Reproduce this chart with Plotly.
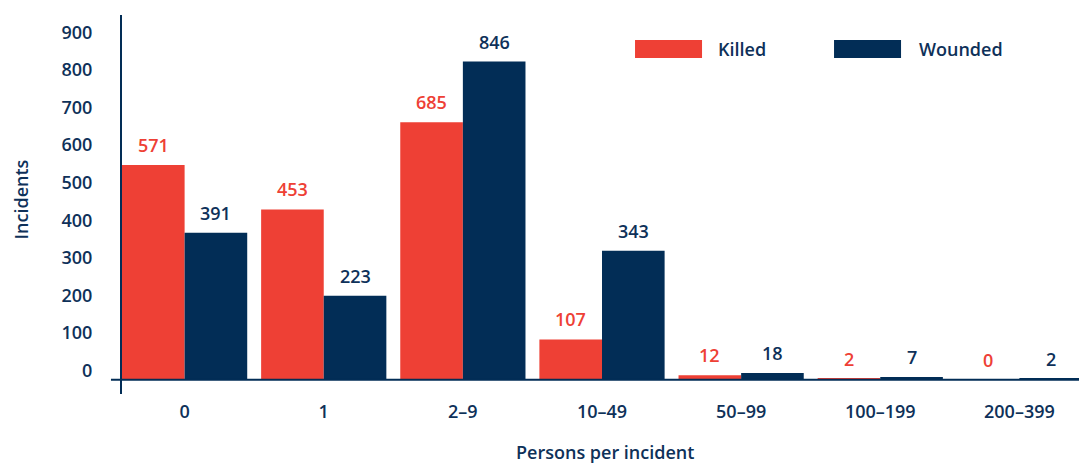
import plotly.graph_objects as go

categories = ["0", "1", "2–9", "10–49", "50–99", "100–199", "200–399"]
killed = [571, 453, 685, 107, 12, 2, 0]
wounded = [391, 223, 846, 343, 18, 7, 2]
y_ticks = [0, 100, 200, 300, 400, 500, 600, 700, 800, 900]

RED = "#EE4035"
NAVY = "#022D56"
TXT = "#0E3159"
FONT = "Open Sans"
W = 600


def f(color=TXT, size=18):
    return dict(family=FONT, size=size, color=color, weight=W)


fig = go.Figure()
fig.add_trace(go.Bar(x=categories, y=killed, name="Killed", marker_color=RED,
                     marker_line_width=0, showlegend=False))
fig.add_trace(go.Bar(x=categories, y=wounded, name="Wounded", marker_color=NAVY,
                     marker_line_width=0, showlegend=False))

annotations = []
half = 0.225
for i, (k, w) in enumerate(zip(killed, wounded)):
    annotations.append(dict(x=i - half, y=k, xref="x", yref="y", text=str(k),
                            showarrow=False, yanchor="bottom", yshift=6,
                            font=f(RED)))
    annotations.append(dict(x=i + half, y=w, xref="x", yref="y", text=str(w),
                            showarrow=False, yanchor="bottom", yshift=6,
                            font=f(TXT)))

# axis titles
annotations.append(dict(x=0.503, y=-0.153, xref="paper", yref="paper",
                        text="Persons per incident", showarrow=False,
                        xanchor="center", yanchor="middle", font=f()))
annotations.append(dict(x=-0.105, y=0.514, xref="paper", yref="paper",
                        text="Incidents", showarrow=False, textangle=-90,
                        xanchor="center", yanchor="middle", font=f()))

# custom legend text
annotations.append(dict(x=0.6188, y=0.9103, xref="paper", yref="paper",
                        text="Killed", showarrow=False, xanchor="left",
                        yanchor="middle", font=f()))
annotations.append(dict(x=0.8281, y=0.9103, xref="paper", yref="paper",
                        text="Wounded", showarrow=False, xanchor="left",
                        yanchor="middle", font=f()))

shapes = [
    # baseline
    dict(type="line", xref="paper", yref="y", x0=-0.0115, x1=1.006, y0=0, y1=0,
         line=dict(color=NAVY, width=2)),
    # right vertical line
    dict(type="line", xref="paper", yref="paper", x0=1, x1=1, y0=-0.0106, y1=0.939,
         line=dict(color=NAVY, width=2)),
    # legend swatches
    dict(type="rect", xref="paper", yref="paper", x0=0.5344, x1=0.6042,
         y0=0.8865, y1=0.934, fillcolor=RED, line_width=0),
    dict(type="rect", xref="paper", yref="paper", x0=0.7417, x1=0.8115,
         y0=0.8865, y1=0.934, fillcolor=NAVY, line_width=0),
]

fig.update_layout(
    width=1087, height=463,
    margin=dict(l=114, r=13, t=7, b=77),
    paper_bgcolor="white", plot_bgcolor="white",
    barmode="group", bargap=0.1, bargroupgap=0,
    font=f(),
    annotations=annotations, shapes=shapes,
    xaxis=dict(type="category", range=[-0.45, 6.45], showgrid=False,
               zeroline=False, showline=False, ticks="", ticklabelstandoff=5,
               tickfont=f()),
    yaxis=dict(range=[-38, 970], tickvals=y_ticks, showgrid=False,
               zeroline=False, showline=True, linecolor=NAVY, linewidth=2,
               ticks="", ticklabelposition="outside", ticklabelshift=-9,
               ticklabelstandoff=24, tickfont=f()),
)

fig.write_html("out.html")
